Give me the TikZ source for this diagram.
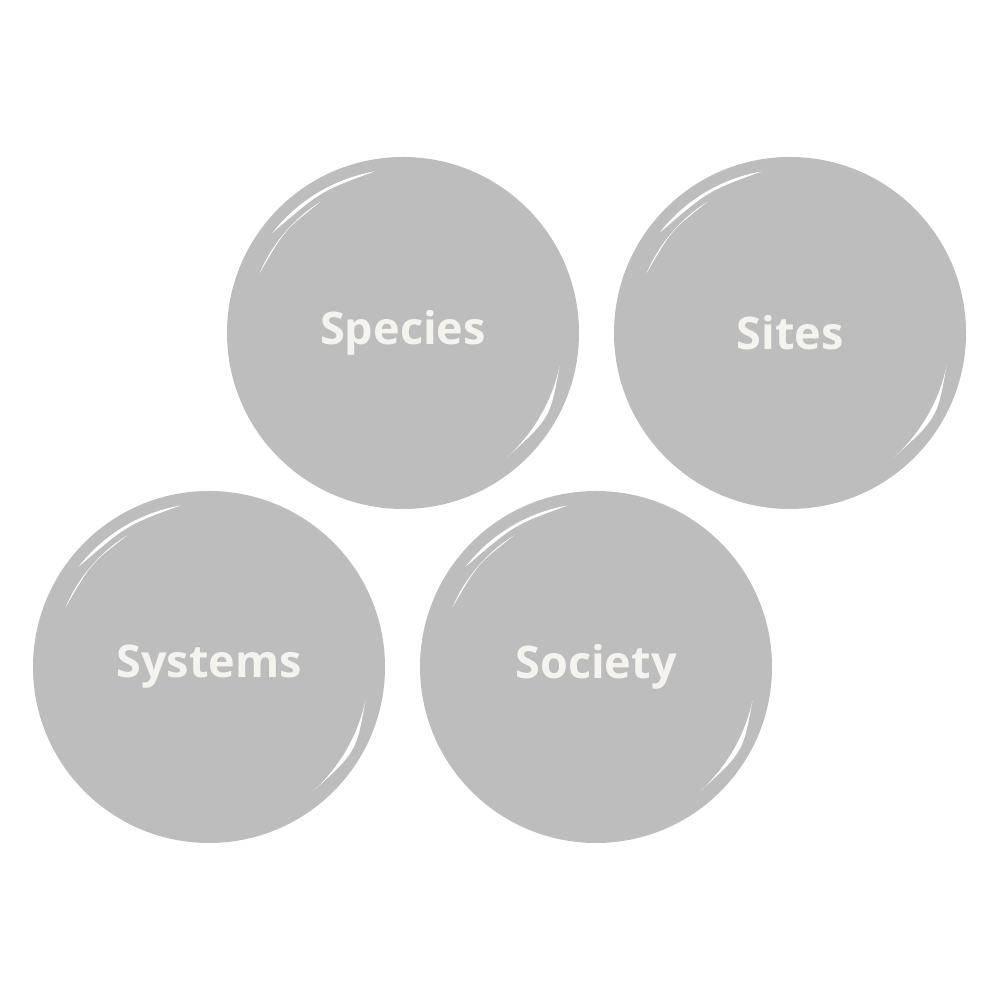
\documentclass[tikz,border=0pt]{standalone}
\usepackage{fontspec}
\setmainfont{Open Sans}
\usepackage{tikz}

\definecolor{blobgrey}{HTML}{BDBDBD}
\definecolor{chalk}{HTML}{F5F3EE}

\begin{document}
\begin{tikzpicture}[node distance=3.87cm,
  blob/.style={circle, fill=blobgrey, minimum size=3.52cm, inner sep=0pt,
    text=chalk, font=\fontsize{12.8}{15}\selectfont\bfseries},
  streak/.style={fill=white}]
\useasboundingbox (0,0) rectangle (10,10);
\node[blob] at (4.03,6.67)  (species) {Species};
\node[blob, right of=species] (sites) {Sites};
\node[blob] at (2.09,3.33)  (systems) {Systems};
\node[blob, right of=systems] (society) {Society};
% brush highlights
\foreach \c in {species, sites, systems, society} {
  \begin{scope}[shift={(\c.center)}]
    \fill[streak] (100:1.64) arc[start angle=100, end angle=142, radius=1.66]
      .. controls (120:1.64) .. (100:1.64) -- cycle;
    \fill[streak] (122:1.55) arc[start angle=122, end angle=157, radius=1.57]
      .. controls (139:1.57) .. (122:1.55) -- cycle;
    \fill[streak] (-12:1.60) arc[start angle=-12, end angle=-48, radius=1.70]
      .. controls (-30:1.70) .. (-12:1.60) -- cycle;
  \end{scope}
}
\end{tikzpicture}
\end{document}
